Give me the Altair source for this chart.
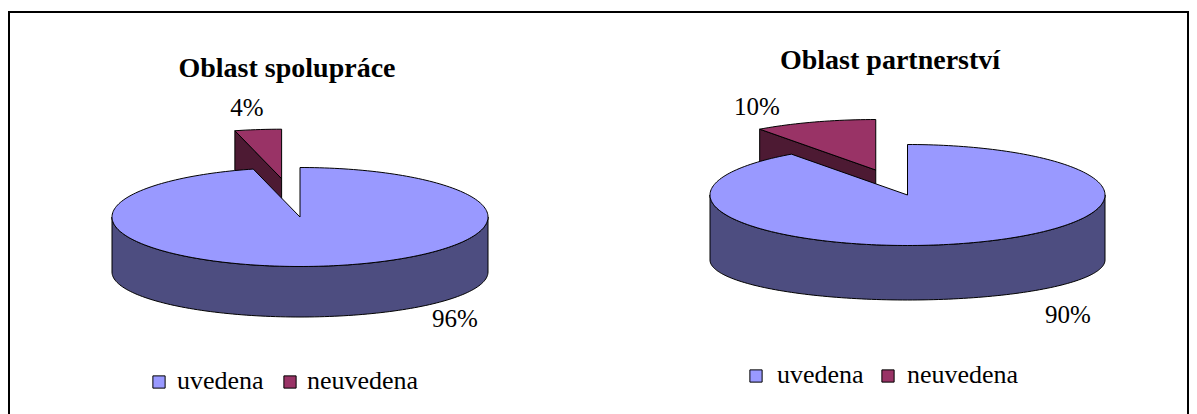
import numpy as np
import pandas as pd
import altair as alt

# ---- data -------------------------------------------------------------
categories = ["uvedena", "neuvedena"]
titles = ["Oblast spolupráce", "Oblast partnerství"]
spoluprace = [96, 4]
partnerstvi = [90, 10]
series = [spoluprace, partnerstvi]

top_colors = ["#9999FF", "#993366"]
side_colors = ["#4D4D80", "#4D1A33"]

# ---- layout of the two 3-D pies (page pixels) --------------------------
pies = [
    dict(cx=300, cy=217, rx=188, ry=49.5, depth=55, ry_bottom=45, explode=[0, 0.78],
         title_xy=(287, 77), label_xy=[(455, 327), (247, 116)],
         legend_sq=[(159, 382), (290, 382)], legend_tx=[177, 307], legend_base=389),
    dict(cx=907.5, cy=195, rx=197.5, ry=50.5, depth=65, ry_bottom=40, explode=[0, 0.52],
         title_xy=(890, 69), label_xy=[(1068, 323), (757, 115)],
         legend_sq=[(756, 376), (888, 376)], legend_tx=[777, 907], legend_base=383),
]

FONT = "Liberation Serif"


def point(p, phi, off, bottom=False):
    """Point on the top (or bottom) rim ellipse, phi clockwise from 12 o'clock."""
    r = np.radians(phi)
    if bottom:
        return (p["cx"] + p["rx"] * np.sin(r) + off[0],
                p["cy"] + p["depth"] - p["ry_bottom"] * np.cos(r) + off[1])
    return (p["cx"] + p["rx"] * np.sin(r) + off[0],
            p["cy"] - p["ry"] * np.cos(r) + off[1])


def arc(p, a0, a1, off, bottom=False):
    n = max(2, int(abs(a1 - a0) / 1.5) + 1)
    return [point(p, a, off, bottom) for a in np.linspace(a0, a1, n)]


rows = []


def add_poly(pid, face, z, pts):
    pts = list(pts) + [pts[0]]
    for i, (x, y) in enumerate(pts):
        rows.append(dict(poly=pid, face=face, z=z, i=i, x=x, y=y))


for k, (p, values) in enumerate(zip(pies, series)):
    total = sum(values)
    cum = np.concatenate([[0], np.cumsum(values)])
    for j, cat in enumerate(categories):
        a0 = 360.0 * cum[j] / total
        a1 = 360.0 * cum[j + 1] / total
        e = p["explode"][j]
        b = np.radians((a0 + a1) / 2)
        off = (e * p["rx"] * np.sin(b), -e * p["ry"] * np.cos(b))
        tip_top = (p["cx"] + off[0], p["cy"] + off[1])
        tip_bot = (p["cx"] + off[0], p["cy"] + p["depth"] + off[1])
        exploded = e > 0
        z_side, z_top = (0, 1) if exploded else (2, 3)
        side = cat + " bok"

        # curved outer wall (front half only)
        lo, hi = max(a0, 90.0), min(a1, 270.0)
        if hi > lo:
            add_poly(f"{k}-{j}-rim", side, z_side,
                     arc(p, lo, hi, off) + arc(p, hi, lo, off, bottom=True))

        # radial cut faces that turn toward the viewer
        for a, sign in ((a0, -1), (a1, 1)):
            if sign * np.sin(np.radians(a)) > 1e-6:
                add_poly(f"{k}-{j}-cut{a:.1f}", side, z_side,
                         [tip_top, point(p, a, off), point(p, a, off, bottom=True), tip_bot])

        # top face
        add_poly(f"{k}-{j}-top", cat, z_top, [tip_top] + arc(p, a0, a1, off))

poly = pd.DataFrame(rows)

labels = pd.DataFrame([
    dict(x=p["label_xy"][j][0], y=p["label_xy"][j][1], text=f"{v}%")
    for p, values in zip(pies, series) for j, v in enumerate(values)
])
title_df = pd.DataFrame([
    dict(x=p["title_xy"][0], y=p["title_xy"][1], text=t) for p, t in zip(pies, titles)
])
legend_sq = pd.DataFrame([
    dict(x=p["legend_sq"][j][0], y=p["legend_sq"][j][1], face=c)
    for p in pies for j, c in enumerate(categories)
])
legend_tx = pd.DataFrame([
    dict(x=p["legend_tx"][j], y=p["legend_base"], text=c)
    for p in pies for j, c in enumerate(categories)
])

W, H = 1197, 414
xs = alt.X("x:Q", scale=alt.Scale(domain=[0, W], nice=False, zero=False), axis=None)
ys = alt.Y("y:Q", scale=alt.Scale(domain=[0, H], reverse=True, nice=False, zero=False), axis=None)
fill_scale = alt.Scale(domain=categories + [c + " bok" for c in categories],
                       range=top_colors + side_colors)


def faces(z):
    return (
        alt.Chart(poly[poly.z == z])
        .mark_line(stroke="black", strokeWidth=1, interpolate="linear", strokeJoin="miter")
        .encode(x=xs, y=ys, detail="poly:N", order="i:Q",
                fill=alt.Fill("face:N", scale=fill_scale, legend=None))
    )


label_layer = alt.Chart(labels).mark_text(
    font=FONT, fontSize=25, align="center", baseline="alphabetic", color="black"
).encode(x=xs, y=ys, text="text:N")

title_layer = alt.Chart(title_df).mark_text(
    font=FONT, fontSize=28, fontWeight="bold", align="center", baseline="alphabetic", color="black"
).encode(x=xs, y=ys, text="text:N")

legend_squares = alt.Chart(legend_sq).mark_square(
    size=150, stroke="black", strokeWidth=1, opacity=1, filled=True
).encode(x=xs, y=ys, fill=alt.Fill("face:N", scale=fill_scale, legend=None))

legend_text = alt.Chart(legend_tx).mark_text(
    font=FONT, fontSize=26, align="left", baseline="alphabetic", color="black"
).encode(x=xs, y=ys, text="text:N")

frame_left = alt.Chart().mark_rule(color="black", strokeWidth=2).encode(
    x=alt.value(9), y=alt.value(12), y2=alt.value(H))
frame_top = alt.Chart().mark_rule(color="black", strokeWidth=2).encode(
    x=alt.value(8), x2=alt.value(1189), y=alt.value(12))
frame_right = alt.Chart().mark_rule(color="black", strokeWidth=2).encode(
    x=alt.value(1188), y=alt.value(11), y2=alt.value(H))

chart = alt.layer(
    faces(0), faces(1), faces(2), faces(3),
    label_layer, title_layer, legend_squares, legend_text,
    frame_left, frame_top, frame_right,
).properties(
    width=W, height=H, padding=0, autosize=alt.AutoSizeParams(type="none"),
    background="white",
).configure_view(stroke=None)

chart.save("out.html", embed_options={"renderer": "svg", "actions": False})
